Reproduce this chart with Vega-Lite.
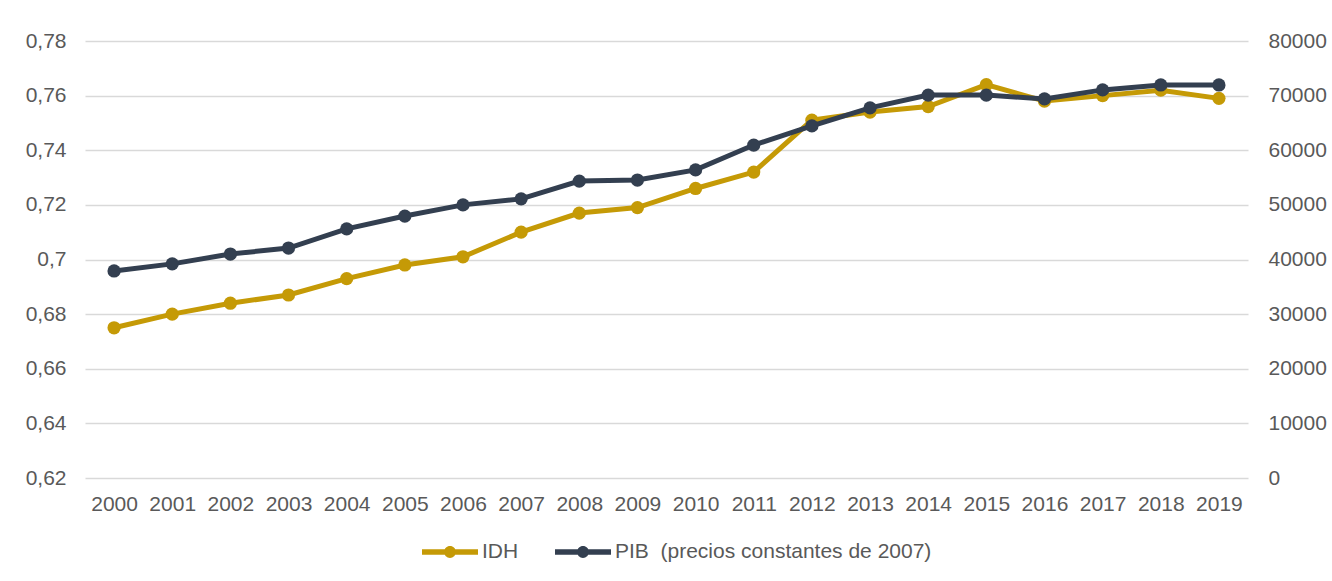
{
  "$schema": "https://vega.github.io/schema/vega-lite/v6.json",
  "width": 1163,
  "height": 437,
  "autosize": {"type": "none"},
  "padding": {"left": 85, "top": 41, "right": 84, "bottom": 103},
  "background": "white",
  "config": {
    "font": "Liberation Sans",
    "view": {"stroke": null},
    "axis": {"labelFont": "Liberation Sans", "labelFontSize": 21, "labelColor": "#595959", "domain": false, "ticks": false, "title": null},
    "legend": {"labelFont": "Liberation Sans", "labelFontSize": 21, "labelColor": "#595959", "labelLimit": 0}
  },
  "data": {
    "values": [
      {"year": "2000", "IDH": 0.675, "PIB": 37900},
      {"year": "2001", "IDH": 0.680, "PIB": 39200},
      {"year": "2002", "IDH": 0.684, "PIB": 41000},
      {"year": "2003", "IDH": 0.687, "PIB": 42100},
      {"year": "2004", "IDH": 0.693, "PIB": 45600},
      {"year": "2005", "IDH": 0.698, "PIB": 47950},
      {"year": "2006", "IDH": 0.701, "PIB": 50000},
      {"year": "2007", "IDH": 0.710, "PIB": 51100},
      {"year": "2008", "IDH": 0.717, "PIB": 54350},
      {"year": "2009", "IDH": 0.719, "PIB": 54550},
      {"year": "2010", "IDH": 0.726, "PIB": 56400},
      {"year": "2011", "IDH": 0.732, "PIB": 60950},
      {"year": "2012", "IDH": 0.751, "PIB": 64450},
      {"year": "2013", "IDH": 0.754, "PIB": 67750},
      {"year": "2014", "IDH": 0.756, "PIB": 70100},
      {"year": "2015", "IDH": 0.764, "PIB": 70100},
      {"year": "2016", "IDH": 0.758, "PIB": 69400},
      {"year": "2017", "IDH": 0.760, "PIB": 71050},
      {"year": "2018", "IDH": 0.762, "PIB": 71950},
      {"year": "2019", "IDH": 0.759, "PIB": 71950}
    ]
  },
  "encoding": {
    "x": {
      "field": "year",
      "type": "ordinal",
      "scale": {"type": "point", "padding": 0.5},
      "axis": {"labelAngle": 0, "labelPadding": 15, "grid": false}
    }
  },
  "layer": [
    {
      "mark": {"type": "line", "strokeWidth": 5, "point": {"filled": true, "size": 175}},
      "encoding": {
        "y": {
          "field": "IDH",
          "type": "quantitative",
          "scale": {"domain": [0.62, 0.78], "nice": false, "zero": false},
          "axis": {
            "orient": "left",
            "values": [0.62, 0.64, 0.66, 0.68, 0.7, 0.72, 0.74, 0.76, 0.78],
            "labelExpr": "replace(format(datum.value, '~g'), '.', ',')",
            "labelPadding": 19,
            "grid": true,
            "gridColor": "#D9D9D9",
            "gridWidth": 1.5
          }
        },
        "color": {
          "datum": "IDH",
          "type": "nominal",
          "scale": {"domain": ["IDH", "PIB \u00a0(precios constantes de 2007)"], "range": ["#C59A06", "#333F50"]},
          "legend": {
            "orient": "none",
            "legendX": 337,
            "legendY": 483,
            "direction": "horizontal",
            "title": null,
            "symbolType": "M-1,-0.1L1,-0.1L1,0.1L-1,0.1Z M-0.21,0A0.21,0.21 0 1,1 0.21,0A0.21,0.21 0 1,1 -0.21,0Z",
            "symbolSize": 3136,
            "symbolStrokeWidth": 0,
            "labelOffset": 4,
            "columnPadding": 36,
            "encode": {
              "symbols": {
                "update": {
                  "fill": {"scale": "color", "field": "value"},
                  "fillOpacity": {"value": 1},
                  "strokeWidth": {"value": 0}
                }
              }
            }
          }
        }
      }
    },
    {
      "mark": {"type": "line", "strokeWidth": 5, "point": {"filled": true, "size": 175}},
      "encoding": {
        "y": {
          "field": "PIB",
          "type": "quantitative",
          "scale": {"domain": [0, 80000], "nice": false},
          "axis": {
            "orient": "right",
            "values": [0, 10000, 20000, 30000, 40000, 50000, 60000, 70000, 80000],
            "format": "d",
            "labelPadding": 20,
            "grid": false
          }
        },
        "color": {"datum": "PIB \u00a0(precios constantes de 2007)", "type": "nominal"}
      }
    }
  ],
  "resolve": {"scale": {"y": "independent"}}
}
